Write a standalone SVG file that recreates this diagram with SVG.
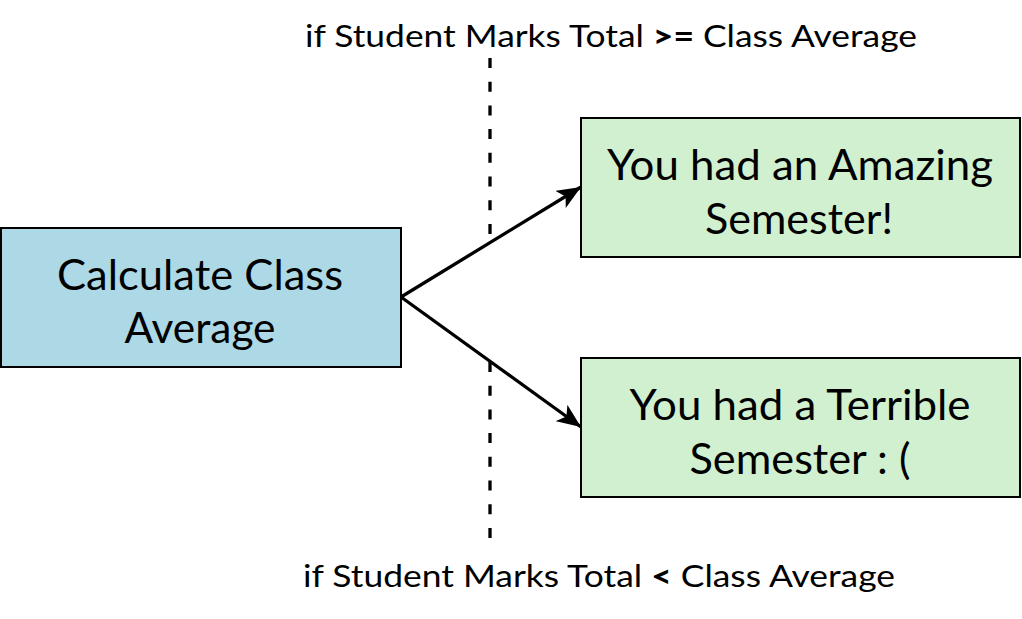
<svg xmlns="http://www.w3.org/2000/svg" width="1022" height="619" viewBox="0 0 1022 619">
<defs>
<style>
.box{stroke:#000;stroke-width:2}
.blue{fill:#ADD8E6}
.green{fill:#D0F0D0}
.t{font-family:Lato,"Open Sans","Liberation Sans",sans-serif;fill:#000;text-anchor:middle}
.big{font-size:42px}
.lab{font-size:31px}
.conn{stroke:#000;stroke-width:3.3;fill:none}
.dash{stroke:#000;stroke-width:3.3;stroke-dasharray:10 13.7;fill:none}
</style>
<marker id="ah" viewBox="0 0 24 20" refX="24" refY="10" markerWidth="24" markerHeight="20" markerUnits="userSpaceOnUse" orient="auto">
<path d="M0,0 L24,10 L0,20 L6,10 Z" fill="#000"/>
</marker>
</defs>
<rect width="1022" height="619" fill="#fff"/>
<g id="labels">
<text class="t lab" x="611" y="47" textLength="612" lengthAdjust="spacingAndGlyphs">if Student Marks Total <tspan font-weight="900">&gt;=</tspan> Class Average</text>
<text class="t lab" x="599" y="587" textLength="592" lengthAdjust="spacingAndGlyphs">if Student Marks Total <tspan font-weight="900">&lt;</tspan> Class Average</text>
</g>
<g id="connectors">
<path class="dash" d="M490,58 V237"/>
<path class="dash" d="M490,362 V540"/>
<path class="conn" d="M401,297 L581,187" marker-end="url(#ah)"/>
<path class="conn" d="M401,297 L581,427" marker-end="url(#ah)"/>
</g>
<g id="calc">
<rect class="box blue" x="1" y="228" width="400" height="139"/>
<text class="t big" x="200" y="290" textLength="286" lengthAdjust="spacingAndGlyphs">Calculate Class</text>
<text class="t big" x="200" y="343" textLength="151" lengthAdjust="spacingAndGlyphs">Average</text>
</g>
<g id="amazing">
<rect class="box green" x="581" y="118" width="439" height="139"/>
<text class="t big" x="800" y="180" textLength="386" lengthAdjust="spacingAndGlyphs">You had an Amazing</text>
<text class="t big" x="799" y="234" textLength="188" lengthAdjust="spacingAndGlyphs">Semester!</text>
</g>
<g id="terrible">
<rect class="box green" x="581" y="358" width="439" height="139"/>
<text class="t big" x="800" y="420" textLength="341" lengthAdjust="spacingAndGlyphs">You had a Terrible</text>
<text class="t big" x="800" y="474" textLength="221" lengthAdjust="spacingAndGlyphs">Semester : (</text>
</g>
</svg>
